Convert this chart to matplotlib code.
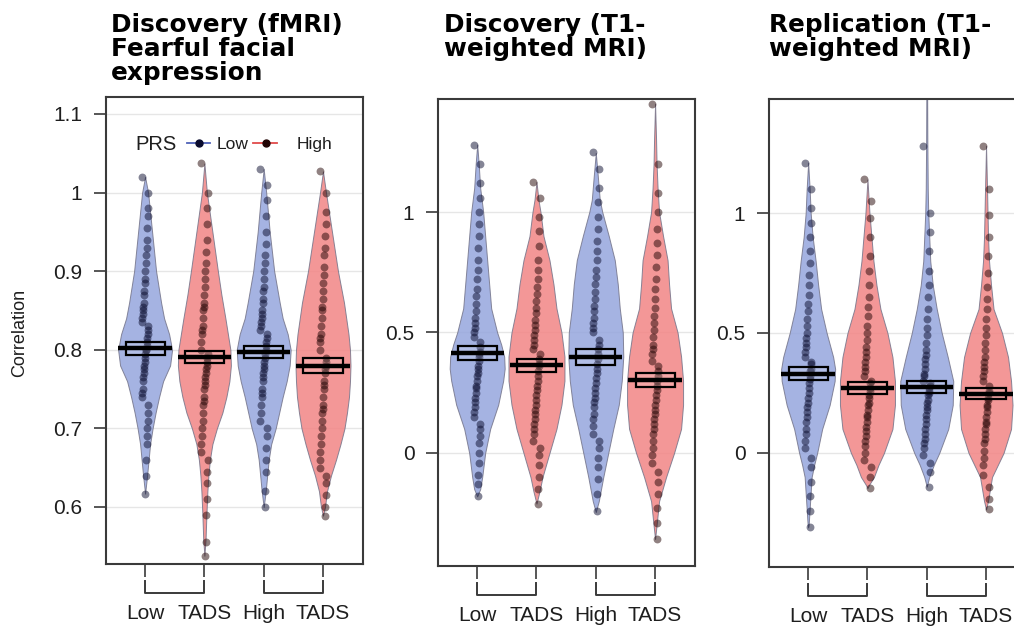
import numpy as np
import matplotlib.pyplot as plt
import matplotlib.transforms as mtransforms

plt.rcParams['font.family'] = ['Liberation Sans', 'DejaVu Sans']

# ---- data ----
groups = ['Low', 'TADS', 'High', 'TADS']
prs = ['Low', 'High', 'Low', 'High']

titles = ['Discovery (fMRI)\nFearful facial\nexpression',
          'Discovery (T1-\nweighted MRI)',
          'Replication (T1-\nweighted MRI)']

# means and half-height of the inference box
p1_means = [0.802, 0.791, 0.797, 0.780]
p1_ci = [0.008, 0.008, 0.0077, 0.009]
p2_means = [0.415, 0.365, 0.398, 0.303]
p2_ci = [0.031, 0.027, 0.033, 0.028]
p3_means = [0.330, 0.270, 0.275, 0.246]
p3_ci = [0.027, 0.025, 0.025, 0.023]

# bean outlines: (value, half-width in px at full size)
p1_beans = [
    [(1.02, 0), (1.0, 3), (0.95, 7), (0.9, 11), (0.86, 16), (0.84, 19), (0.82, 24), (0.80, 27),
     (0.78, 25), (0.76, 18), (0.74, 14), (0.72, 10.5), (0.70, 7.5), (0.68, 5), (0.66, 3.5),
     (0.64, 2), (0.617, 0)],
    [(1.037, 0), (1.0, 2.5), (0.95, 8), (0.9, 13.5), (0.87, 17), (0.84, 21), (0.80, 26), (0.78, 26.5),
     (0.76, 25), (0.74, 22), (0.72, 18), (0.70, 12.5), (0.68, 8), (0.66, 5.5), (0.64, 4),
     (0.62, 3), (0.59, 2), (0.56, 1.2), (0.538, 0)],
    [(1.03, 0), (1.0, 2.5), (0.95, 6), (0.9, 10.5), (0.86, 16), (0.84, 19), (0.82, 24), (0.80, 27),
     (0.78, 26), (0.76, 23), (0.74, 19), (0.72, 15.5), (0.70, 12), (0.68, 7.5), (0.66, 5),
     (0.64, 3.5), (0.62, 2), (0.60, 0)],
    [(1.027, 0), (1.0, 3), (0.95, 9), (0.9, 15), (0.86, 21), (0.82, 25.5), (0.80, 27), (0.78, 27.5),
     (0.76, 27), (0.74, 26), (0.72, 24), (0.70, 21.5), (0.68, 17.5), (0.66, 13), (0.64, 8),
     (0.62, 4), (0.60, 2), (0.589, 0)],
]
p2_beans = [
    [(1.28, 0), (1.2, 1.5), (1.1, 3), (1.0, 6), (0.9, 8), (0.8, 10), (0.7, 12), (0.6, 14),
     (0.5, 20), (0.45, 24), (0.4, 27), (0.35, 27.5), (0.3, 26), (0.2, 21), (0.1, 13),
     (0.0, 8), (-0.1, 5), (-0.15, 3), (-0.18, 0)],
    [(1.125, 0), (1.05, 2), (1.0, 4), (0.9, 7), (0.8, 13), (0.7, 17), (0.6, 20), (0.5, 25),
     (0.4, 28), (0.3, 28), (0.2, 25), (0.1, 20), (0.0, 13), (-0.1, 6), (-0.16, 3), (-0.21, 0)],
    [(1.245, 0), (1.15, 2), (1.05, 4), (1.0, 6.5), (0.9, 13), (0.8, 19), (0.7, 22), (0.6, 24),
     (0.5, 27), (0.4, 27.5), (0.3, 26), (0.2, 23), (0.1, 17.5), (0.0, 12.5), (-0.1, 7.5),
     (-0.2, 3), (-0.245, 0)],
    [(1.45, 0), (1.3, 1), (1.2, 1.5), (1.1, 2.5), (1.0, 4), (0.9, 8), (0.8, 12.5), (0.7, 14),
     (0.6, 16), (0.5, 22.5), (0.4, 26), (0.3, 28), (0.2, 28), (0.1, 26), (0.0, 19),
     (-0.1, 11), (-0.2, 4), (-0.3, 1.5), (-0.357, 0)],
]
p3_beans = [
    [(1.21, 0), (1.1, 1.5), (1.0, 2.5), (0.9, 4.5), (0.8, 7.5), (0.7, 10), (0.6, 13), (0.5, 18.5),
     (0.4, 25), (0.35, 27), (0.3, 26.5), (0.2, 21.5), (0.1, 14), (0.0, 9), (-0.05, 6),
     (-0.1, 3.5), (-0.2, 2), (-0.3, 0.5), (-0.31, 0)],
    [(1.14, 0), (1.0, 2), (0.9, 4), (0.8, 6), (0.7, 9), (0.6, 13), (0.5, 20), (0.4, 25),
     (0.3, 27.5), (0.2, 27.5), (0.1, 25), (0.0, 16.5), (-0.05, 11), (-0.1, 6.5), (-0.13, 2),
     (-0.146, 0)],
    [(1.5, 0.4), (1.3, 0.6), (1.1, 1), (1.0, 1.5), (0.9, 2.5), (0.8, 3.5), (0.7, 6), (0.6, 10),
     (0.5, 15), (0.4, 21), (0.3, 26.5), (0.2, 26), (0.1, 21.5), (0.0, 12.5), (-0.05, 7),
     (-0.1, 2.5), (-0.14, 0)],
    [(1.28, 0), (1.1, 1), (1.0, 1.5), (0.9, 2), (0.8, 3), (0.7, 5), (0.6, 7.5), (0.5, 16),
     (0.4, 22), (0.3, 25), (0.2, 26.5), (0.1, 25), (0.0, 17.5), (-0.1, 6), (-0.2, 2),
     (-0.235, 0)],
]

# individual points (estimated)
p1_points = [
    [1.02, 1.0, 0.98, 0.97, 0.955, 0.94, 0.93, 0.92, 0.91, 0.9, 0.89, 0.885, 0.875, 0.87, 0.86,
     0.855, 0.85, 0.845, 0.84, 0.835, 0.83, 0.825, 0.82, 0.815, 0.81, 0.805, 0.80, 0.80, 0.795,
     0.79, 0.785, 0.78, 0.775, 0.77, 0.765, 0.76, 0.75, 0.745, 0.74, 0.73, 0.72, 0.71, 0.70,
     0.69, 0.68, 0.66, 0.64, 0.617],
    [1.037, 1.0, 0.98, 0.96, 0.94, 0.925, 0.91, 0.90, 0.89, 0.88, 0.87, 0.86, 0.855, 0.85, 0.84,
     0.83, 0.825, 0.82, 0.81, 0.80, 0.795, 0.79, 0.785, 0.78, 0.775, 0.77, 0.765, 0.76, 0.755,
     0.75, 0.74, 0.735, 0.73, 0.72, 0.71, 0.70, 0.69, 0.68, 0.67, 0.66, 0.645, 0.63, 0.61,
     0.59, 0.555, 0.538],
    [1.03, 1.01, 0.99, 0.97, 0.95, 0.935, 0.92, 0.91, 0.90, 0.89, 0.88, 0.875, 0.865, 0.86, 0.85,
     0.845, 0.84, 0.835, 0.83, 0.825, 0.82, 0.815, 0.81, 0.805, 0.80, 0.795, 0.79, 0.785, 0.78,
     0.775, 0.77, 0.765, 0.76, 0.75, 0.745, 0.74, 0.73, 0.72, 0.71, 0.70, 0.69, 0.675, 0.66,
     0.645, 0.62, 0.60],
    [1.027, 1.0, 0.975, 0.96, 0.945, 0.93, 0.92, 0.905, 0.895, 0.885, 0.875, 0.865, 0.855, 0.85,
     0.84, 0.83, 0.82, 0.815, 0.81, 0.80, 0.79, 0.785, 0.78, 0.775, 0.77, 0.76, 0.755, 0.75,
     0.74, 0.73, 0.725, 0.72, 0.71, 0.70, 0.69, 0.68, 0.67, 0.66, 0.65, 0.64, 0.63, 0.615,
     0.60, 0.589],
]
p2_points = [
    [1.28, 1.2, 1.12, 1.06, 1.0, 0.95, 0.9, 0.85, 0.8, 0.76, 0.72, 0.68, 0.65, 0.62, 0.59, 0.56,
     0.54, 0.52, 0.5, 0.48, 0.46, 0.44, 0.42, 0.41, 0.40, 0.38, 0.36, 0.35, 0.33, 0.32, 0.30,
     0.28, 0.27, 0.25, 0.23, 0.21, 0.19, 0.17, 0.15, 0.12, 0.10, 0.07, 0.04, 0.0, -0.04, -0.09,
     -0.13, -0.18],
    [1.125, 1.06, 0.98, 0.92, 0.86, 0.8, 0.76, 0.72, 0.69, 0.66, 0.63, 0.6, 0.58, 0.55, 0.53,
     0.51, 0.49, 0.47, 0.45, 0.43, 0.41, 0.39, 0.37, 0.36, 0.34, 0.32, 0.30, 0.28, 0.26, 0.24,
     0.22, 0.2, 0.18, 0.16, 0.14, 0.12, 0.1, 0.08, 0.05, 0.02, -0.01, -0.05, -0.1, -0.15, -0.21],
    [1.25, 1.18, 1.1, 1.04, 0.98, 0.93, 0.88, 0.84, 0.8, 0.76, 0.73, 0.7, 0.67, 0.64, 0.61, 0.59,
     0.56, 0.54, 0.52, 0.5, 0.47, 0.45, 0.43, 0.41, 0.39, 0.37, 0.35, 0.33, 0.31, 0.29, 0.27,
     0.25, 0.23, 0.21, 0.19, 0.16, 0.14, 0.11, 0.08, 0.05, 0.02, -0.02, -0.06, -0.11, -0.17,
     -0.24],
    [1.45, 1.2, 1.08, 1.0, 0.93, 0.87, 0.82, 0.77, 0.72, 0.68, 0.64, 0.6, 0.57, 0.54, 0.51, 0.48,
     0.45, 0.43, 0.41, 0.38, 0.36, 0.34, 0.32, 0.30, 0.28, 0.26, 0.24, 0.22, 0.2, 0.18, 0.16,
     0.14, 0.12, 0.1, 0.08, 0.05, 0.02, -0.01, -0.04, -0.08, -0.12, -0.17, -0.23, -0.29, -0.357],
]
p3_points = [
    [1.21, 1.1, 1.02, 0.96, 0.9, 0.84, 0.79, 0.74, 0.7, 0.66, 0.62, 0.59, 0.56, 0.53, 0.5, 0.48,
     0.46, 0.44, 0.42, 0.4, 0.38, 0.37, 0.35, 0.34, 0.32, 0.31, 0.29, 0.27, 0.25, 0.23, 0.21,
     0.19, 0.17, 0.15, 0.13, 0.1, 0.08, 0.05, 0.02, -0.02, -0.06, -0.12, -0.18, -0.24, -0.31],
    [1.14, 1.05, 0.98, 0.9, 0.82, 0.76, 0.7, 0.65, 0.61, 0.57, 0.53, 0.5, 0.47, 0.44, 0.42, 0.4,
     0.38, 0.36, 0.34, 0.32, 0.3, 0.29, 0.27, 0.26, 0.24, 0.23, 0.21, 0.2, 0.18, 0.16, 0.15,
     0.13, 0.11, 0.09, 0.07, 0.05, 0.03, 0.0, -0.03, -0.06, -0.1, -0.146],
    [1.28, 1.0, 0.92, 0.84, 0.76, 0.7, 0.65, 0.6, 0.56, 0.52, 0.49, 0.46, 0.43, 0.41, 0.39, 0.37,
     0.35, 0.33, 0.32, 0.3, 0.29, 0.28, 0.27, 0.26, 0.25, 0.24, 0.22, 0.21, 0.19, 0.18, 0.16,
     0.14, 0.12, 0.1, 0.08, 0.06, 0.04, 0.02, -0.01, -0.04, -0.08, -0.14],
    [1.28, 1.1, 0.99, 0.9, 0.82, 0.75, 0.69, 0.64, 0.6, 0.56, 0.52, 0.49, 0.46, 0.43, 0.4, 0.38,
     0.36, 0.34, 0.32, 0.3, 0.28, 0.26, 0.25, 0.23, 0.22, 0.2, 0.19, 0.17, 0.15, 0.13, 0.12, 0.1,
     0.08, 0.06, 0.04, 0.01, -0.02, -0.05, -0.09, -0.14, -0.19, -0.235],
]

p1_yticks = [0.6, 0.7, 0.8, 0.9, 1.0, 1.1]
p1_yticklabels = ['0.6', '0.7', '0.8', '0.9', '1', '1.1']
p23_yticks = [0, 0.5, 1]
p23_yticklabels = ['0', '0.5', '1']

# ---- style ----
bean_fill = {'Low': '#95a6dd', 'High': '#f28585'}
point_col = {'Low': '#0a0c2e', 'High': '#220404'}
line_col = {'Low': '#4f62b8', 'High': '#e04a4a'}
frame_col = '#3a3a3a'
PX_PER_UNIT = 59.3

panels = [
    dict(pos=[0.1045, 0.1005, 0.2535, 0.7448], ylim=(0.5275, 1.1216), means=p1_means, ci=p1_ci,
         beans=p1_beans, points=p1_points, yt=p1_yticks, ytl=p1_yticklabels, tx=0.1095),
    dict(pos=[0.4320, 0.0973, 0.2535, 0.7448], ylim=(-0.469, 1.469), means=p2_means, ci=p2_ci,
         beans=p2_beans, points=p2_points, yt=p23_yticks, ytl=p23_yticklabels, tx=0.4379),
    dict(pos=[0.7584, 0.0957, 0.2535, 0.7464], ylim=(-0.475, 1.475), means=p3_means, ci=p3_ci,
         beans=p3_beans, points=p3_points, yt=p23_yticks, ytl=p23_yticklabels, tx=0.7584),
]

fig = plt.figure(figsize=(10.14, 6.27), dpi=100)
xs = np.arange(1, 5)

for k, p in enumerate(panels):
    ax = fig.add_axes(p['pos'])
    ax.set_xlim(0.34, 4.675)
    ax.set_ylim(*p['ylim'])
    for yv in p['yt']:
        ax.axhline(yv, color='#e6e6e6', lw=1.0, zorder=0)

    for i, x in enumerate(xs):
        g = prs[i]
        prof = np.array(p['beans'][i])
        yy = prof[:, 0]
        ww = prof[:, 1] / PX_PER_UNIT
        ax.fill_betweenx(yy, x - ww, x + ww, facecolor=bean_fill[g], edgecolor='#74748a',
                         lw=0.7, alpha=0.85, zorder=1)
        pts = np.array(p['points'][i])
        n = len(pts)
        off = ((np.arange(n) * 37) % 19 / 18.0 - 0.5) * 0.11
        ax.scatter(x + off, pts, s=32, color=point_col[g], alpha=0.5, lw=0, zorder=2)
        m, c = p['means'][i], p['ci'][i]
        ax.add_patch(plt.Rectangle((x - 0.33, m - c), 0.66, 2 * c, facecolor='white', alpha=0.15,
                                   zorder=3))
        ax.add_patch(plt.Rectangle((x - 0.33, m - c), 0.66, 2 * c, fill=False, edgecolor='black',
                                   lw=1.6, zorder=3))
        ax.plot([x - 0.45, x + 0.45], [m, m], color='black', lw=3.2, solid_capstyle='butt', zorder=4)

    for s in ax.spines.values():
        s.set_color(frame_col)
        s.set_linewidth(1.5)
    ax.set_yticks(p['yt'])
    ax.set_yticklabels(p['ytl'])
    ax.set_xticks(xs)
    ax.set_xticklabels(groups)
    ax.tick_params(axis='both', direction='out', length=9, width=1.2, color=frame_col,
                   labelsize=15, labelcolor='#1e1e1e')
    ax.tick_params(axis='y', pad=8)
    ax.tick_params(axis='x', pad=20)

    # brackets under each pair
    trans = mtransforms.blended_transform_factory(ax.transData, ax.transAxes)
    for a, b in [(1, 2), (3, 4)]:
        ax.plot([a, a, b, b], [-0.0364, -0.0621, -0.0621, -0.0364], color=frame_col, lw=1.4,
                transform=trans, clip_on=False)

    fig.text(p['tx'], 1 - 13 / 627, titles[k], ha='left', va='top', fontsize=17.8,
             fontweight='bold', family='DejaVu Sans', linespacing=1.0, color='black')

    if k == 0:
        ax.text(0.113, 0.899, 'PRS', transform=ax.transAxes, ha='left', va='center',
                fontsize=14.5, color='#1e1e1e')
        for (x0, x1, xd, xt, g) in [(0.315, 0.405, 0.362, 0.432, 'Low'),
                                    (0.572, 0.665, 0.623, 0.743, 'High')]:
            ax.plot([x0, x1], [0.901, 0.901], color=line_col[g], lw=1.3, transform=ax.transAxes)
            ax.plot([xd], [0.901], 'o', ms=5, color=point_col[g], transform=ax.transAxes)
            ax.text(xt, 0.899, g, transform=ax.transAxes, ha='left', va='center',
                    fontsize=12.5, color='#1e1e1e')

fig.text(20 / 1014, 1 - 333 / 627, 'Correlation', rotation=90, ha='center', va='center',
         fontsize=13, color='#1e1e1e')

fig.savefig('out.png', dpi=100)
